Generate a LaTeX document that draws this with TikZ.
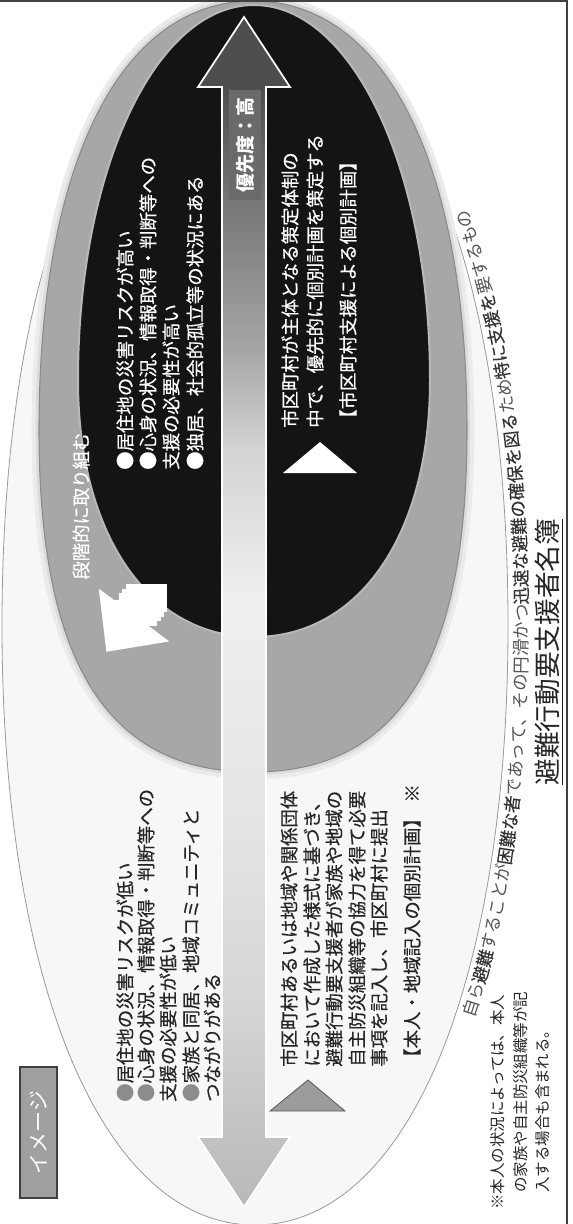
\documentclass[tikz,border=0pt]{standalone}
\usepackage{fontspec}
\setmainfont{Noto Sans CJK JP}
\newfontfamily\mfont{Noto Sans CJK JP}[FakeBold=0.5]
\newfontfamily\cbfont{Noto Sans CJK JP}[FakeBold=0.35]
\usetikzlibrary{decorations.text}
\definecolor{blk}{HTML}{141414}
\definecolor{midgray}{HTML}{A7A7A7}
\definecolor{graydark}{HTML}{8A8A8A}
\definecolor{rimgray}{HTML}{B8B8B8}
\definecolor{outerfill}{HTML}{F7F7F7}
\definecolor{outerline}{HTML}{9A9A9A}
\definecolor{haloA}{HTML}{EBEBEB}
\definecolor{haloB}{HTML}{DCDCDC}
\definecolor{textdark}{HTML}{262626}
\definecolor{capgray}{HTML}{555555}
\definecolor{capdark}{HTML}{333333}
\definecolor{bulgray}{HTML}{8C8C8C}
\definecolor{labelgray}{HTML}{A0A0A0}
\definecolor{labeldark}{HTML}{404040}
\definecolor{prigray}{HTML}{6A6A6A}
\definecolor{tri}{HTML}{9C9C9C}
\definecolor{ash0}{HTML}{B8B8B8}
\definecolor{ash1}{HTML}{C0C0C0}
\definecolor{ash2}{HTML}{D6D6D6}
\definecolor{ash3}{HTML}{E6E6E6}
\definecolor{ash4}{HTML}{EFEFEF}
\definecolor{ash5}{HTML}{D4D4D4}
\definecolor{ash6}{HTML}{A6A6A6}
\definecolor{ash7}{HTML}{767676}
\definecolor{ash8}{HTML}{4E4E4E}
\pgfdeclareverticalshading{arrowshade}{100bp}{color(0bp)=(ash0); color(25bp)=(ash0); color(27.4bp)=(ash1); color(33.7bp)=(ash2); color(42bp)=(ash3); color(50.5bp)=(ash4); color(56.8bp)=(ash5); color(61bp)=(ash6); color(67.3bp)=(ash7); color(72bp)=(ash8); color(75bp)=(ash8); color(100bp)=(ash8)}
% #1 style, #2 cx, #3 cy, #4 a, #5 b top, #6 b bottom, #7 k top, #8 k bottom
\newcommand{\myoval}[8]{%
 \path[#1] (#2+#4,#3) .. controls (#2+#4,#3-#7*#5) and (#2+#7*#4,#3-#5) .. (#2,#3-#5)
 .. controls (#2-#7*#4,#3-#5) and (#2-#4,#3-#7*#5) .. (#2-#4,#3)
 .. controls (#2-#4,#3+#8*#6) and (#2-#8*#4,#3+#6) .. (#2,#3+#6)
 .. controls (#2+#8*#4,#3+#6) and (#2+#4,#3+#8*#6) .. (#2+#4,#3) -- cycle;}
\newcommand{\mainsz}{\mfont\fontsize{13.8pt}{16pt}\selectfont}
\newcommand{\notesz}{\fontsize{11.6pt}{13pt}\selectfont}
\newcommand{\capfont}{\normalfont\fontsize{13.1pt}{13.1pt}\selectfont\color{capgray}}
\newcommand{\capbold}{\cbfont\fontsize{13.1pt}{13.1pt}\selectfont\color{capdark}}
\newcommand{\graybul}{\textcolor{bulgray}{●}}
\tikzset{
 wt/.style={text=white, font=\mainsz, rotate=90, anchor=west, inner sep=0pt},
 dk/.style={text=textdark, font=\mainsz, rotate=90, anchor=west, inner sep=0pt},
 nt/.style={text=textdark, font=\notesz, rotate=90, anchor=west, inner sep=0pt},
 stripe/.style={fill=white},
}
\begin{document}
\begin{tikzpicture}[x=0.75pt, y=-0.75pt]
\useasboundingbox (0,0) rectangle (573,1224);
\fill[white] (0,0) rectangle (573,1224);
% outer ellipse
\myoval{fill=outerfill, draw=outerline, line width=0.6pt}{255}{625}{253}{605}{600}{0.6}{0.6}
% halo round the grey ellipse
\myoval{draw=haloA, line width=11pt}{253}{430}{214}{429}{342}{0.62}{0.68}
\myoval{draw=haloB, line width=5pt}{253}{430}{214}{429}{342}{0.62}{0.68}
% grey ellipse
\myoval{fill=midgray, draw=graydark, line width=0.8pt}{253}{430}{214}{429}{342}{0.62}{0.68}
% black ellipse
\myoval{fill=blk, draw=rimgray, line width=1.5pt}{254}{380}{176}{375}{257}{0.56}{0.6}
% frame
\draw[labeldark, line width=1.5pt] (0,1) -- (567,1) -- (567,1224);
% curved caption along the outer ellipse
\path[decorate, decoration={text along path, text align={left indent=252pt},
  text={|\capfont|自ら|\capbold|避難|\capfont|することが|\capbold|困難な者|\capfont|であって、その円滑かつ|\capbold|迅速な避難の確保を図る|\capfont|ため|\capbold|特に支援を|\capfont|要するもの}}]
  (255,1244) .. controls (255+0.6*273,1244) and (528,625+0.6*619) .. (528,625)
  .. controls (528,625-0.6*623) and (255+0.6*273,2) .. (255,2);
\node[rotate=90, font=\fontsize{20pt}{21pt}\selectfont, text=textdark, inner sep=0pt] (meibo) at (549,652) {\underline{避難行動要支援者名簿}};
% main double arrow
\path[shading=arrowshade, draw=white, line width=1.3pt]
 (244,17) -- (290,87) -- (266,87) -- (266,1137) -- (290,1137) -- (244,1207)
 -- (198,1137) -- (222,1137) -- (222,87) -- (198,87) -- cycle;
\node[rotate=90, fill=prigray, text=white, font=\fontsize{14.2pt}{15pt}\selectfont\bfseries, minimum width=82pt, minimum height=24pt, inner sep=0pt] (prio) at (245,145) {優先度：高};
% striped white arrow
\begin{scope}[shift={(134,615)}, x={(-0.45pt,-0.6pt)}, y={(0.6pt,-0.45pt)}]
 \fill[white] (46,0) -- (0,44) -- (0,-44) -- cycle;
 \path[stripe] (0.5,-25) rectangle (-5,25);
 \path[stripe] (-8.5,-25) rectangle (-11,25);
 \path[stripe] (-14,-25) rectangle (-16.5,25);
 \path[stripe] (-19.5,-25) rectangle (-22,25);
\end{scope}
\node[wt] (step) at (81,580) {段階的に取り組む};
% triangles
\fill[white] (320,442) -- (357,473) -- (283,473) -- cycle;
\path[fill=tri, draw=gray!70!black, line width=0.6pt] (308,1080) -- (345,1111) -- (270,1111) -- cycle;
% texts in the black ellipse
\node[wt] (hi1) at (125,470) {●居住地の災害リスクが高い};
\node[wt] (hi2) at (148,470) {●心身の状況、情報取得・判断等への};
\node[wt] (hi3) at (171,470) {支援の必要性が高い};
\node[wt] (hi4) at (195,470) {●独居、社会的孤立等の状況にある};
\node[wt] (pr1) at (290,428) {市区町村が主体となる策定体制の};
\node[wt] (pr2) at (315,428) {中で、優先的に個別計画を策定する};
\node[wt] (pr3) at (348,428) {【市区町村支援による個別計画】};
% texts in the outer ellipse
\node[dk] (lo1) at (125,1102) {\graybul 居住地の災害リスクが低い};
\node[dk] (lo2) at (146,1102) {\graybul 心身の状況、情報取得・判断等への};
\node[dk] (lo3) at (168,1102) {支援の必要性が低い};
\node[dk] (lo4) at (191,1102) {\graybul 家族と同居、地域コミュニティと};
\node[dk] (lo5) at (212,1102) {つながりがある};
\node[dk] (rl1) at (289,1067) {市区町村あるいは地域や関係団体};
\node[dk] (rl2) at (312,1067) {において作成した様式に基づき、};
\node[dk] (rl3) at (334,1067) {避難行動要支援者が家族や地域の};
\node[dk] (rl4) at (357,1067) {自主防災組織等の協力を得て必要};
\node[dk] (rl5) at (379,1067) {事項を記入し、市区町村に提出};
\node[dk] (rl6) at (412,1067) {【本人・地域記入の個別計画】\hspace{5pt}※};
% note
\node[nt] (nt1) at (498,1210) {※本人の状況によっては、本人};
\node[nt] (nt2) at (521,1193) {の家族や自主防災組織等が記};
\node[nt] (nt3) at (543,1193) {入する場合も含まれる。};
% label
\node[rotate=90, fill=labelgray, draw=labeldark, line width=1.2pt, text=white, font=\fontsize{15.7pt}{16pt}\selectfont, minimum width=98pt, minimum height=27.7pt, inner sep=0pt] (image) at (38.5,1132.5) {イメージ};
\end{tikzpicture}
\end{document}
